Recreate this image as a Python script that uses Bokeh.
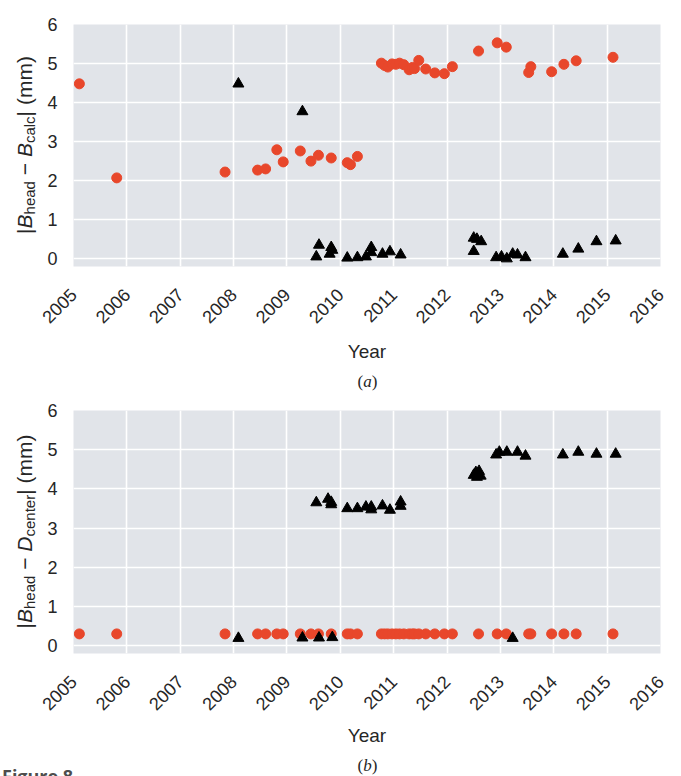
from math import pi
from bokeh.plotting import figure
from bokeh.layouts import column, row
from bokeh.models import FixedTicker, Range1d, Div
from bokeh.embed import file_html
from bokeh.resources import INLINE

# ---------------- data ----------------
x_ticks = [2005, 2006, 2007, 2008, 2009, 2010, 2011, 2012, 2013, 2014, 2015, 2016]
y_ticks = [0, 1, 2, 3, 4, 5, 6]

# panel (a): |B_head - B_calc|
a_red_x = [2005.11, 2005.81, 2007.84, 2008.45, 2008.60, 2008.81, 2008.93, 2009.25,
           2009.45, 2009.59, 2009.83, 2010.13, 2010.19, 2010.32, 2010.77, 2010.83,
           2010.89, 2010.97, 2011.04, 2011.11, 2011.19, 2011.29, 2011.35, 2011.39,
           2011.47, 2011.60, 2011.77, 2011.95, 2012.10, 2012.59, 2012.94, 2013.11,
           2013.53, 2013.57, 2013.96, 2014.19, 2014.42, 2015.11]
a_red_y = [4.48, 2.07, 2.22, 2.27, 2.30, 2.79, 2.48, 2.76,
           2.50, 2.65, 2.58, 2.46, 2.41, 2.62, 5.01, 4.95,
           4.91, 4.99, 4.98, 5.01, 4.97, 4.84, 4.90, 4.87,
           5.08, 4.86, 4.76, 4.74, 4.92, 5.32, 5.53, 5.42,
           4.77, 4.92, 4.79, 4.98, 5.07, 5.16]

a_blk_x = [2008.09, 2009.29, 2009.55, 2009.60, 2009.80, 2009.83, 2009.85, 2010.13,
           2010.32, 2010.48, 2010.58, 2010.58, 2010.79, 2010.93, 2011.13, 2012.50,
           2012.50, 2012.56, 2012.64, 2012.92, 2013.02, 2013.12, 2013.23, 2013.32,
           2013.47, 2014.17, 2014.46, 2014.80, 2015.16]
a_blk_y = [4.48, 3.77, 0.05, 0.35, 0.12, 0.29, 0.22, 0.02,
           0.03, 0.05, 0.29, 0.16, 0.12, 0.18, 0.10, 0.19,
           0.53, 0.50, 0.44, 0.03, 0.05, 0.00, 0.12, 0.10,
           0.03, 0.12, 0.25, 0.44, 0.46]

# panel (b): |B_head - D_center|
b_red_x = a_red_x
b_red_y = [0.30, 0.30, 0.30, 0.30, 0.30, 0.30, 0.30, 0.30,
           0.30, 0.30, 0.30, 0.30, 0.30, 0.30, 0.30, 0.30,
           0.30, 0.30, 0.30, 0.30, 0.30, 0.30, 0.30, 0.30,
           0.30, 0.30, 0.30, 0.30, 0.30, 0.30, 0.30, 0.30,
           0.30, 0.30, 0.30, 0.30, 0.30, 0.30]

b_blk_x = [2008.09, 2009.29, 2009.55, 2009.60, 2009.77, 2009.83, 2009.85, 2009.83,
           2010.13, 2010.32, 2010.48, 2010.58, 2010.58, 2010.79, 2010.93, 2011.13,
           2011.13, 2012.50, 2012.54, 2012.60, 2012.56, 2012.63, 2012.92, 2012.98,
           2013.12, 2013.23, 2013.32, 2013.47, 2014.17, 2014.46, 2014.80, 2015.16]
b_blk_y = [0.19, 0.20, 3.65, 0.20, 3.74, 3.60, 0.21, 3.66,
           3.50, 3.50, 3.54, 3.54, 3.47, 3.57, 3.46, 3.67,
           3.56, 4.35, 4.42, 4.45, 4.30, 4.33, 4.87, 4.94,
           4.94, 0.19, 4.94, 4.84, 4.87, 4.94, 4.89, 4.89]

# y titles: (main symbol, subscript) pairs
ytitle_a = [("B", "head"), ("B", "calc")]
ytitle_b = [("B", "head"), ("D", "center")]

# ---------------- styling / layout ----------------
W = 681
WL = 36                 # width of the strip that carries the y title
X0, X1 = 2005, 2016
Y0, Y1 = -0.2, 6
FL, FW = 73, 587        # frame left (in page px) and frame width
BG = "#E1E4E9"
RED = "#E8472B"
TXT = "#262626"
FONT = "Liberation Sans"


def y_title(height, frame_top, fh, terms):
    L = 270
    top = frame_top + fh / 2 - L / 2
    sub = 'style="font-size:15px;position:relative;top:3px;font-style:normal"'
    t1, t2 = terms
    inner = (f"|<i>{t1[0]}</i><span {sub}>{t1[1]}</span> &minus; "
             f"<i>{t2[0]}</i><span {sub}>{t2[1]}</span>| (mm)")
    html = (f'<div style="width:{L}px;height:21px;padding-top:14px;box-sizing:content-box;'
            f'transform-origin:0 0;transform:translate(0px,{top + L}px) rotate(-90deg);'
            f"text-align:center;white-space:nowrap;font-family:'{FONT}';font-size:21px;"
            f'line-height:21px;color:{TXT};margin:0">{inner}</div>')
    return Div(text=html, width=WL, height=height, margin=0)


def panel(top, fh, bottom, rx, ry, bx, by, label_standoff):
    p = figure(frame_width=FW, frame_height=fh,
               x_range=Range1d(X0, X1), y_range=Range1d(Y0, Y1),
               output_backend="svg", toolbar_location=None,
               min_border_left=FL - WL, min_border_right=W - FL - FW,
               min_border_top=top, min_border_bottom=bottom)
    p.background_fill_color = BG
    p.border_fill_color = "white"
    p.outline_line_color = None
    p.grid.grid_line_color = "white"
    p.grid.grid_line_width = 1.6
    p.xaxis.ticker = FixedTicker(ticks=x_ticks)
    p.yaxis.ticker = FixedTicker(ticks=y_ticks)
    p.axis.axis_line_color = None
    p.axis.major_tick_line_color = None
    p.axis.minor_tick_line_color = None
    p.axis.major_tick_out = 0
    p.axis.major_tick_in = 0
    p.axis.major_label_text_font = FONT
    p.axis.major_label_text_font_size = "18px"
    p.axis.major_label_text_color = TXT
    p.yaxis.major_label_standoff = 16
    p.xaxis.major_label_standoff = 25
    p.xaxis.major_label_orientation = pi / 4
    p.xaxis.axis_label = "Year"
    p.xaxis.axis_label_text_font = FONT
    p.xaxis.axis_label_text_font_size = "19px"
    p.xaxis.axis_label_text_font_style = "normal"
    p.xaxis.axis_label_text_color = TXT
    p.xaxis.axis_label_standoff = label_standoff

    p.scatter(rx, ry, marker="circle", size=10, fill_color=RED, line_color=RED)
    p.scatter(bx, by, marker="triangle", size=11, fill_color="black", line_color="black")
    return p


def caption(height, tag, top_px, figure_label_top=None):
    cx = FL + FW / 2 + 1
    parts = [
        f'<div style="position:absolute;left:{cx - 50}px;top:{top_px}px;width:100px;'
        f"text-align:center;font-family:'Liberation Serif';font-size:17px;line-height:17px;"
        f'color:{TXT};white-space:nowrap">(<i>{tag}</i>)</div>'
    ]
    if figure_label_top is not None:
        parts.append(
            f'<div style="position:absolute;left:2px;top:{figure_label_top}px;'
            f"font-family:'Open Sans';font-weight:bold;font-size:18px;line-height:18px;"
            f'color:#4d4d4d;white-space:nowrap">Figure 8</div>')
    html = (f'<div style="position:relative;width:{W}px;height:{height}px;margin:0;padding:0;'
            f'overflow:hidden">' + "".join(parts) + "</div>")
    return Div(text=html, width=W, height=height, margin=0)


H_A, TOP_A, FH_A = 364, 24, 242
H_B, TOP_B, FH_B = 355, 17, 243
CAP_A = 392 - H_A
CAP_B = 776 - 392 - H_B

row_a = row(y_title(H_A, TOP_A, FH_A, ytitle_a),
            panel(TOP_A, FH_A, H_A - TOP_A - FH_A, a_red_x, a_red_y, a_blk_x, a_blk_y, 9),
            spacing=0)
cap_a = caption(CAP_A, "a", 386 - H_A - 14)
row_b = row(y_title(H_B, TOP_B, FH_B, ytitle_b),
            panel(TOP_B, FH_B, H_B - TOP_B - FH_B, b_red_x, b_red_y, b_blk_x, b_blk_y, 6),
            spacing=0)
cap_b = caption(CAP_B, "b", 769 - 392 - H_B - 14, figure_label_top=768 - 392 - H_B - 3)

layout = column(row_a, cap_a, row_b, cap_b, spacing=0)
open("out.html", "w").write(file_html(layout, INLINE))
